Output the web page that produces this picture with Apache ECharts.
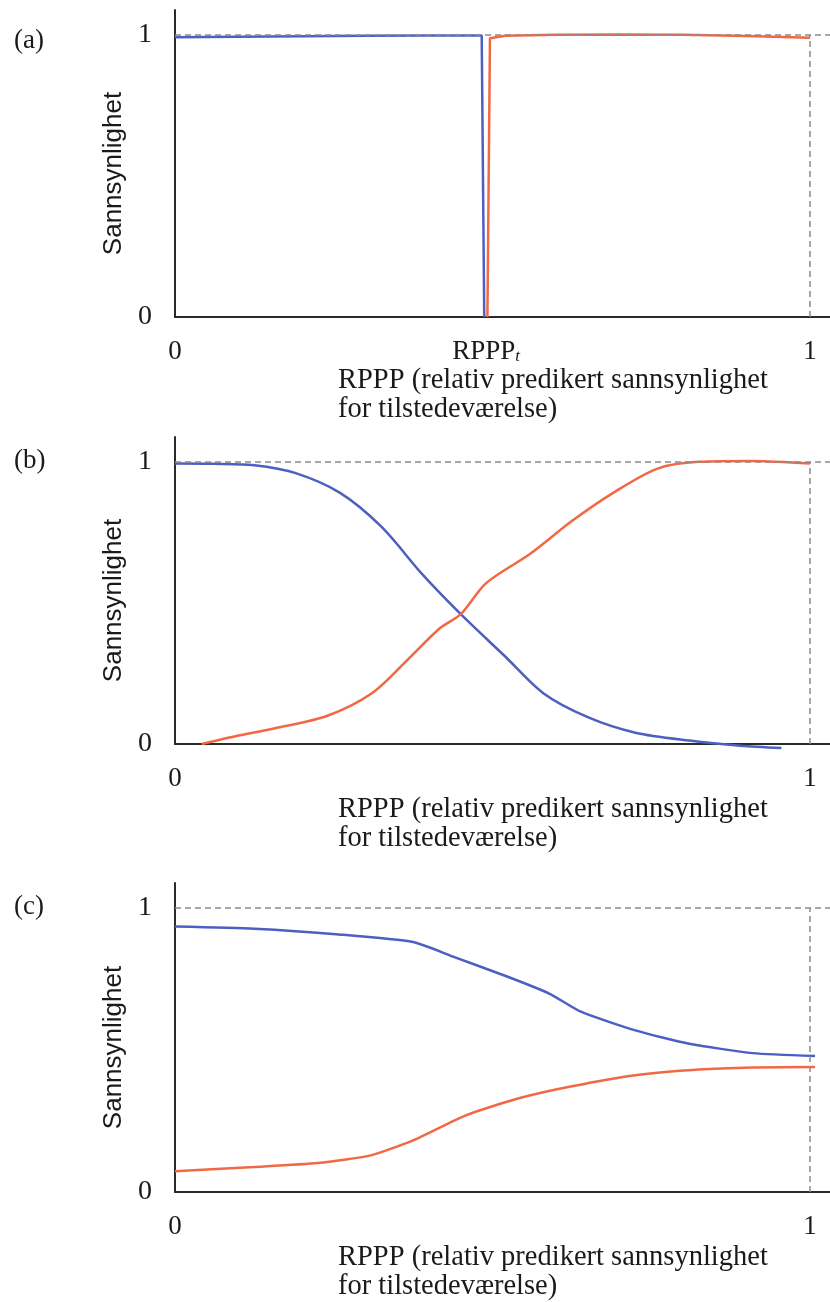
<!DOCTYPE html>
<html>
<head>
<meta charset="utf-8">
<script src="https://cdn.jsdelivr.net/npm/echarts@6/dist/echarts.min.js"></script>
<style>
  html, body { margin: 0; padding: 0; background: #fff; }
  #chart { width: 830px; height: 1302px; }
</style>
</head>
<body>
<div id="chart"></div>
<script>
// panel (a): step curves
const aBlueX = [0, 0.1, 0.2, 0.3, 0.4, 0.483, 0.487];
const aBlueY = [0.991, 0.993, 0.995, 0.997, 0.998, 0.998, 0];
const aRedX = [0.492, 0.496, 0.52, 0.6, 0.7, 0.8, 0.9, 1.0];
const aRedY = [0, 0.988, 0.997, 1.0, 1.001, 1.0, 0.996, 0.99];

// panel (b): sigmoid curves
const bBlueX = [0, 0.06, 0.125, 0.19, 0.26, 0.325, 0.39, 0.45, 0.52, 0.58, 0.65, 0.725, 0.81, 0.89, 0.955];
const bBlueY = [0.994, 0.993, 0.988, 0.96, 0.89, 0.77, 0.6, 0.46, 0.31, 0.18, 0.095, 0.04, 0.012, -0.006, -0.014];
const bRedX = [0.042, 0.1, 0.167, 0.24, 0.31, 0.367, 0.417, 0.45, 0.49, 0.56, 0.625, 0.69, 0.76, 0.825, 0.91, 1.0];
const bRedY = [0, 0.03, 0.06, 0.1, 0.18, 0.3, 0.41, 0.46, 0.57, 0.675, 0.79, 0.89, 0.976, 1.0, 1.003, 0.994];

// panel (c): flat curves
const cBlueX = [0, 0.125, 0.258, 0.375, 0.44, 0.525, 0.59, 0.64, 0.725, 0.81, 0.91, 1.008];
const cBlueY = [0.935, 0.927, 0.907, 0.88, 0.827, 0.757, 0.698, 0.634, 0.569, 0.522, 0.489, 0.479];
const cRedX = [0, 0.125, 0.225, 0.308, 0.375, 0.458, 0.54, 0.625, 0.725, 0.825, 0.91, 1.008];
const cRedY = [0.073, 0.088, 0.102, 0.129, 0.182, 0.27, 0.329, 0.372, 0.411, 0.431, 0.438, 0.44];

const panelLabels = ['(a)', '(b)', '(c)'];
const yTicks = [0, 1];
const xTicksA = [0, 0.49, 1];
const xTicksBC = [0, 1];
const yName = 'Sannsynlighet';
const xNameLines = ['RPPP (relativ predikert sannsynlighet', 'for tilstedeværelse)'];

const BLUE = '#4d5fc1';
const RED = '#f26844';
const SERIF = '"Liberation Serif", "DejaVu Serif", serif';
const SANS = '"Liberation Sans", Arial, sans-serif';

const zip = (xs, ys) => xs.map((x, i) => [x, ys[i]]);

const grids = [
  { left: 175, width: 655, top: 10, height: 307 },
  { left: 175, width: 655, top: 437, height: 307 },
  { left: 175, width: 655, top: 883, height: 309 },
];

const xAxes = grids.map((g, i) => ({
  type: 'value',
  gridIndex: i,
  min: 0,
  max: 1.0315,
  splitLine: { show: false },
  axisTick: { show: false },
  axisLine: { show: true, lineStyle: { color: '#2a2a2a', width: 2 } },
  axisLabel: {
    customValues: i === 0 ? xTicksA : xTicksBC,
    margin: 21,
    color: '#1a1a1a',
    fontFamily: SERIF,
    fontSize: 27,
    formatter: (v) => (v === 0 ? '0' : v === 1 ? '1' : '{b|RPPP}{s|t}'),
    rich: {
      b: { fontFamily: SERIF, fontSize: 27, color: '#1a1a1a' },
      s: { fontFamily: SERIF, fontSize: 17, fontStyle: 'italic', color: '#1a1a1a', verticalAlign: 'bottom', padding: [10, 0, 0, 0] },
    },
  },
  name: xNameLines.map((l) => '{t|' + l + '}').join('\n'),
  nameLocation: 'middle',
  nameGap: i === 0 ? 46 : 51,
  nameTextStyle: {
    padding: [0, 0, 0, 102],
    rich: {
      t: { width: 431, align: 'left', fontFamily: SERIF, fontSize: 28.5, lineHeight: 29, color: '#1a1a1a' },
    },
  },
}));

const yAxes = grids.map((g, i) => ({
  type: 'value',
  gridIndex: i,
  min: 0,
  max: 1.088,
  splitLine: { show: false },
  axisTick: { show: false },
  axisLine: { show: true, lineStyle: { color: '#2a2a2a', width: 2 } },
  axisLabel: {
    customValues: yTicks,
    margin: 23,
    color: '#1a1a1a',
    fontFamily: SERIF,
    fontSize: 28,
  },
  name: yName,
  nameLocation: 'middle',
  nameGap: 47,
  nameTextStyle: { fontFamily: SANS, fontSize: 26, color: '#1a1a1a', padding: [0, 20, 0, 0] },
}));

const refLines = {
  silent: true,
  symbol: 'none',
  label: { show: false },
  lineStyle: { type: [6, 4], color: '#8a8a8a', width: 1.5 },
  data: [{ yAxis: 1 }, [{ coord: [1, 0] }, { coord: [1, 1] }]],
};

const line = (i, data, color, smooth, extra) => Object.assign({
  type: 'line',
  xAxisIndex: i,
  yAxisIndex: i,
  data: data,
  showSymbol: false,
  smooth: smooth,
  clip: false,
  lineStyle: { color: color, width: 2.5 },
  itemStyle: { color: color },
}, extra || {});

const chart = echarts.init(document.getElementById('chart'));
chart.setOption({
  backgroundColor: '#fff',
  animation: false,
  title: panelLabels.map((t, i) => ({
    text: t,
    left: 9,
    top: [22, 442, 888][i],
    textStyle: { fontFamily: SERIF, fontSize: 27, fontWeight: 'normal', color: '#1a1a1a' },
  })),
  grid: grids,
  xAxis: xAxes,
  yAxis: yAxes,
  series: [
    line(0, zip(aBlueX, aBlueY), BLUE, false),
    line(0, zip(aRedX, aRedY), RED, false, { markLine: refLines }),
    line(1, zip(bBlueX, bBlueY), BLUE, 0.3),
    line(1, zip(bRedX, bRedY), RED, 0.3, { markLine: refLines }),
    line(2, zip(cBlueX, cBlueY), BLUE, 0.2),
    line(2, zip(cRedX, cRedY), RED, 0.2, { markLine: refLines }),
  ],
});
</script>
</body>
</html>
